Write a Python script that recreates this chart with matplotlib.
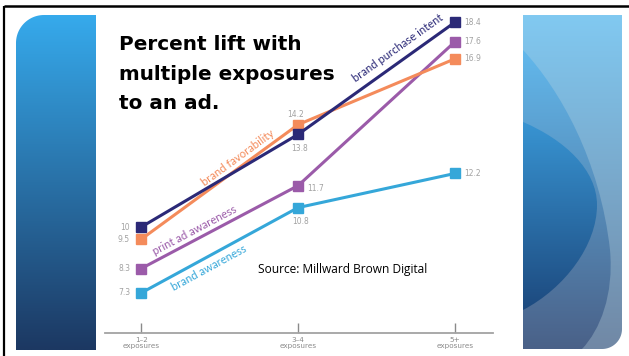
import matplotlib.pyplot as plt
import matplotlib.colors as mcolors
import numpy as np
from matplotlib.path import Path
from matplotlib.patches import PathPatch

# Exposure buckets along the x axis
exposures = ['1\u20132', '3\u20134', '5+']

# Percent lift for each metric
purchase_intent = [10, 13.8, 18.4]
favorability = [9.5, 14.2, 16.9]
print_awareness = [8.3, 11.7, 17.6]
brand_awareness = [7.3, 10.8, 12.2]

W, H = 629, 356
fig = plt.figure(figsize=(W / 100, H / 100), dpi=100)
fig.patch.set_facecolor('white')

# Slide decoration layer, in pixel coordinates
bg = fig.add_axes([0, 0, 1, 1])
bg.axis('off')


def gradient_fill(ax, path, top_color, bottom_color, y0, y1, x0, x1, z=1):
    c0 = np.array(mcolors.to_rgb(top_color))
    c1 = np.array(mcolors.to_rgb(bottom_color))
    t = np.linspace(0, 1, 256)[:, None]
    img = (c0 * (1 - t) + c1 * t)[:, None, :]
    im = ax.imshow(img, extent=(x0, x1, y1, y0), aspect='auto', zorder=z,
                   interpolation='bilinear')
    patch = PathPatch(path, facecolor='none', edgecolor='none')
    ax.add_patch(patch)
    im.set_clip_path(patch)


def panel_path(x0, y0, x1, y1, r, corner):
    arc = np.linspace(0, np.pi / 2, 24)
    if corner == 'top-left':
        cx, cy = x0 + r, y0 + r
        pts = [(x0, y1)] + [(cx - r * np.cos(a), cy - r * np.sin(a)) for a in arc]
        pts += [(x1, y0), (x1, y1)]
    else:
        cx, cy = x1 - r, y1 - r
        pts = [(x0, y0), (x1, y0)] + [(cx + r * np.cos(a), cy + r * np.sin(a)) for a in arc]
        pts += [(x0, y1)]
    return Path(pts + [pts[0]], closed=True)


# left blue panel
left = panel_path(16, 15, 96, 350, 28, 'top-left')
gradient_fill(bg, left, '#36aaec', '#1c3862', 15, 350, 16, 96)

# right panel with overlapping arcs
right = panel_path(523, 15, 622, 349, 20, 'bottom-right')
gradient_fill(bg, right, '#81c9f1', '#7188a5', 15, 349, 523, 622)

C = Path.CURVE4
arc_b = Path([(523, 50), (560, 90), (600, 160), (610, 250),
              (614, 295), (600, 330), (582, 349), (523, 349), (523, 50)],
             [Path.MOVETO, C, C, C, C, C, C, Path.LINETO, Path.CLOSEPOLY])
gradient_fill(bg, arc_b, '#62b8ec', '#4a6188', 50, 349, 523, 622, z=2)

arc_c = Path([(523, 122), (565, 140), (597, 170), (597, 205),
              (597, 245), (565, 288), (523, 310), (523, 122)],
             [Path.MOVETO, C, C, C, C, C, C, Path.CLOSEPOLY])
gradient_fill(bg, arc_c, '#3894d2', '#1d4a7f', 122, 310, 523, 600, z=3)

# slide frame
bg.plot([4, 4], [5.5, H], color='black', lw=1.6, solid_capstyle='butt')
bg.plot([4, W], [5.5, 5.5], color='black', lw=1.8, solid_capstyle='butt')

# title, one line at a time
title_lines = ['Percent lift with', 'multiple exposures', 'to an ad.']
for line, yb in zip(title_lines, [50, 80, 109]):
    bg.text(119, yb, line, fontsize=14.4, fontweight='bold', family='DejaVu Sans',
            va='baseline', ha='left', color='black')

bg.text(258, 270, 'Source: Millward Brown Digital', fontsize=8.6,
        family='Open Sans', va='center', ha='left', color='black')

bg.set_xlim(0, W)
bg.set_ylim(H, 0)

# chart
ax = fig.add_axes([105 / W, 1 - 333 / H, 388 / W, 323 / H])
ax.patch.set_alpha(0)
x = np.arange(len(exposures))

series = [
    (brand_awareness, '#35a7d9', 'brand awareness'),
    (print_awareness, '#9b5ba9', 'print ad awareness'),
    (favorability, '#f48b5b', 'brand favorability'),
    (purchase_intent, '#2b2977', 'brand purchase intent'),
]
for vals, color, name in series:
    ax.plot(x, vals, color=color, lw=2.2, marker='s', ms=6.5,
            solid_joinstyle='miter', clip_on=False, zorder=3)

ax.set_xlim(-0.23, 2.242)
ax.set_ylim(5.66, 18.9)

for s in ['top', 'right', 'left']:
    ax.spines[s].set_visible(False)
ax.spines['bottom'].set_color('#a3a3a3')
ax.spines['bottom'].set_linewidth(1.3)
ax.set_yticks([])
ax.set_xticks(x)
ax.set_xticklabels([e + '\nexposures' for e in exposures], fontsize=5.2,
                   color='#8a8a8a', linespacing=0.95)
ax.tick_params(axis='x', direction='in', length=7, width=1, color='#8a8a8a', pad=3)

# value labels
gray = '#a2a2a2'
mid_offsets = {
    'brand awareness': (3, -14, 'center'),
    'print ad awareness': (9, -3, 'left'),
    'brand favorability': (-2, 10, 'center'),
    'brand purchase intent': (2, -14, 'center'),
}
for vals, color, name in series:
    ax.annotate(f'{vals[0]:g}', (x[0], vals[0]), xytext=(-11, 0),
                textcoords='offset pixels', ha='right', va='center',
                fontsize=5.5, color=gray)
    dx, dy, ha = mid_offsets[name]
    ax.annotate(f'{vals[1]:g}', (x[1], vals[1]), xytext=(dx, dy),
                textcoords='offset pixels', ha=ha, va='center',
                fontsize=5.5, color=gray)
    ax.annotate(f'{vals[2]:g}', (x[2], vals[2]), xytext=(9, 0),
                textcoords='offset pixels', ha='left', va='center',
                fontsize=5.5, color=gray)


# series names written along their lines
def line_label(vals, i, t, offset, text, color):
    p0 = ax.transData.transform((x[i], vals[i]))
    p1 = ax.transData.transform((x[i + 1], vals[i + 1]))
    d = p1 - p0
    ang = np.degrees(np.arctan2(d[1], d[0]))
    n = np.array([-d[1], d[0]]) / np.hypot(*d)
    pos = p0 + t * d + offset * n
    xd, yd = ax.transData.inverted().transform(pos)
    ax.text(xd, yd, text, rotation=ang, rotation_mode='anchor', ha='center',
            va='center', fontsize=8.1, color=color, family='Lato')


line_label(purchase_intent, 1, 0.68, 12, 'brand purchase intent', '#2b2977')
line_label(favorability, 0, 0.65, 9, 'brand favorability', '#f48b5b')
line_label(print_awareness, 0, 0.37, 9, 'print ad awareness', '#9b5ba9')
line_label(brand_awareness, 0, 0.4, -10.5, 'brand awareness', '#35a7d9')

fig.savefig('out.png', dpi=100)
